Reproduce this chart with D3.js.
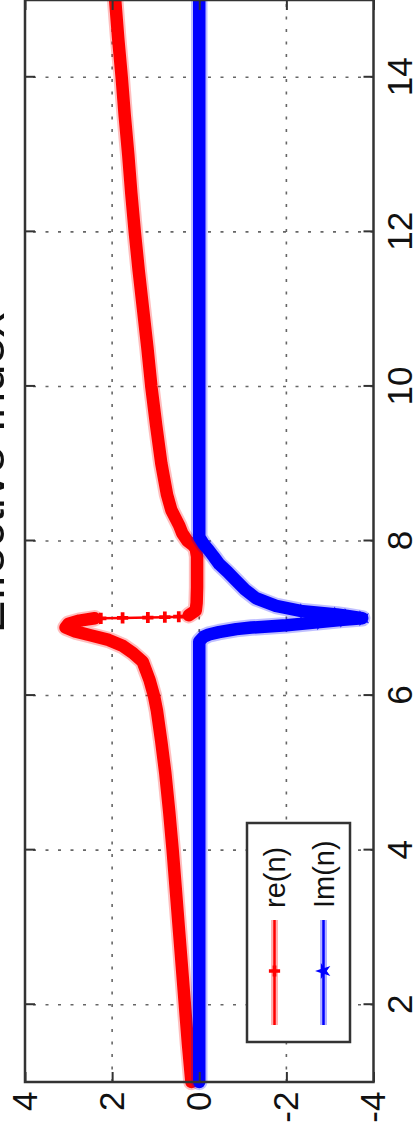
<!DOCTYPE html>
<html>
<head>
<meta charset="utf-8">
<script src="https://cdn.jsdelivr.net/npm/d3@7"></script>
<style>
  html, body { margin: 0; padding: 0; background: #fff; overflow: hidden; }
  svg { display: block; }
  text { font-family: "Liberation Sans", Arial, Helvetica, sans-serif; fill: #111; }
</style>
</head>
<body>
<svg id="chart" width="414" height="1133"></svg>
<script>
// ---- data ----
const titleText = 'Effective Index';
const seriesNames = ['re(n)', 'Im(n)'];
const xTicks = [2, 4, 6, 8, 10, 12, 14];
const yTicks = [-4, -2, 0, 2, 4];
const yTickLabels = ['-4', '-2', '0', '2', '4'];
const xDomain = [1, 15];
const yDomain = [-4, 4];

// re(n) below the resonance (densely sampled)
const reLowX = [1.0, 1.5, 2.0, 2.5, 3.0, 3.5, 4.0, 4.5, 5.0, 5.4, 5.8, 6.0, 6.2, 6.44, 6.55, 6.64, 6.72, 6.78, 6.83, 6.88, 6.93, 6.97, 7.0];
const reLowY = [0.18, 0.26, 0.33, 0.40, 0.47, 0.54, 0.61, 0.69, 0.78, 0.87, 0.97, 1.04, 1.14, 1.30, 1.52, 1.75, 2.08, 2.50, 2.85, 3.07, 3.00, 2.75, 2.40];
// re(n) across the resonance (sparse samples)
const reJumpX = [7.0, 7.005, 7.01, 7.015, 7.02];
const reJumpY = [2.26, 1.76, 1.18, 0.79, 0.47];
// re(n) above the resonance (densely sampled)
const reHighX = [7.04, 7.1, 7.2, 7.4, 7.6, 7.8, 7.9, 7.95, 8.0, 8.1, 8.2, 8.4, 8.6, 9.0, 9.5, 10.0, 10.5, 11.0, 11.5, 12.0, 12.5, 13.0, 13.5, 14.0, 14.5, 15.0];
const reHighY = [0.24, 0.08, 0.06, 0.05, 0.05, 0.05, 0.08, 0.15, 0.27, 0.39, 0.46, 0.64, 0.74, 0.87, 0.99, 1.10, 1.19, 1.29, 1.39, 1.48, 1.56, 1.63, 1.71, 1.78, 1.86, 1.93];

// Im(n)
const imX = [1, 2, 3, 4, 5, 6, 6.5, 6.7, 6.76, 6.79, 6.82, 6.86, 6.88, 6.91, 6.95, 6.98, 7.0, 7.03, 7.05, 7.09, 7.16, 7.26, 7.37, 7.49, 7.6, 7.7, 7.8, 7.88, 7.96, 8.05, 9, 10, 11, 12, 13, 14, 15];
const imY = [0, 0, 0, 0, 0, 0, 0, 0, -0.10, -0.22, -0.45, -0.85, -1.20, -2.00, -2.77, -3.30, -3.74, -3.40, -3.16, -2.38, -1.76, -1.30, -1.05, -0.84, -0.65, -0.46, -0.33, -0.22, -0.10, 0, 0, 0, 0, 0, 0, 0, 0];

// ---- layout (drawn in landscape, turned a quarter turn on the page) ----
const pageW = 414, pageH = 1133;
const svg = d3.select('#chart');
const g = svg.append('g').attr('transform', `translate(0,${pageH}) rotate(-90)`);

const plot = { left: 51, right: 1133, top: 25, bottom: 373.5 };
const x = d3.scaleLinear().domain(xDomain).range([plot.left, plot.right]);
const y = d3.scaleLinear().domain(yDomain).range([plot.bottom, plot.top]);

const RED = '#ff0000', BLUE = '#0000ff', AX = '#333';

// dotted grid
const grid = g.append('g').attr('class', 'grid')
  .attr('stroke', '#666').attr('stroke-width', 1.6).attr('stroke-dasharray', '3 9.5');
grid.selectAll('line.gx').data(xTicks).join('line').attr('class', 'gx')
  .attr('x1', d => x(d)).attr('x2', d => x(d)).attr('y1', plot.bottom).attr('y2', plot.top);
grid.selectAll('line.gy').data(yTicks.filter(v => v > yDomain[0] && v < yDomain[1])).join('line').attr('class', 'gy')
  .attr('x1', plot.left).attr('x2', plot.right).attr('y1', d => y(d)).attr('y2', d => y(d));

// series
const line = d3.line().x(d => x(d[0])).y(d => y(d[1]));
const zip = (xs, ys) => xs.map((v, i) => [v, ys[i]]);

const reLow = zip(reLowX, reLowY);
const reJump = zip(reJumpX, reJumpY);
const reHigh = zip(reHighX, reHighY);
const im = zip(imX, imY);

function band(data, color) {
  g.append('path').datum(data).attr('d', line).attr('fill', 'none')
    .attr('stroke', color).attr('stroke-opacity', 0.25).attr('stroke-width', 16.5)
    .attr('stroke-linejoin', 'round').attr('stroke-linecap', 'round');
  g.append('path').datum(data).attr('d', line).attr('fill', 'none')
    .attr('stroke', color).attr('stroke-width', 12.5)
    .attr('stroke-linejoin', 'round').attr('stroke-linecap', 'round');
}

const plus = d3.symbol().type(d3.symbolCross).size(70);
const star = d3.symbol().type(d3.symbolStar).size(80);

// re(n)
band(reLow, RED);
band(reHigh, RED);
const reThin = [reLow[reLow.length - 1], ...reJump, reHigh[0]];
g.append('path').datum(reThin).attr('d', line).attr('fill', 'none')
  .attr('stroke', RED).attr('stroke-width', 2.5);
g.append('g').selectAll('path').data(reJump).join('path')
  .attr('d', plus).attr('fill', RED)
  .attr('transform', d => `translate(${x(d[0])},${y(d[1])})`);

// Im(n)
band(im, BLUE);
g.append('g').selectAll('path').data(im.filter(d => d[1] < -2.3)).join('path')
  .attr('d', star).attr('fill', BLUE)
  .attr('transform', d => `translate(${x(d[0])},${y(d[1])})`);

// axes
function styleAxis(sel) {
  sel.select('.domain').remove();
  sel.selectAll('.tick line').attr('stroke', AX).attr('stroke-width', 2);
  sel.selectAll('.tick text').attr('font-size', 35).attr('fill', '#111');
}
g.append('g').attr('transform', `translate(0,${plot.bottom})`)
  .call(d3.axisBottom(x).tickValues(xTicks).tickSize(-10).tickPadding(13.5).tickFormat(d3.format('d')))
  .call(styleAxis);
g.append('g').attr('transform', `translate(0,${plot.top})`)
  .call(d3.axisTop(x).tickValues(xTicks).tickSize(-10).tickFormat(''))
  .call(styleAxis);
g.append('g').attr('transform', `translate(${plot.left},0)`)
  .call(d3.axisLeft(y).tickValues(yTicks).tickSize(-10).tickPadding(9.5).tickFormat((d, i) => yTickLabels[i]))
  .call(styleAxis);
g.append('g').attr('transform', `translate(${plot.right},0)`)
  .call(d3.axisRight(y).tickValues(yTicks).tickSize(-10).tickFormat(''))
  .call(styleAxis);

// frame
g.append('rect').attr('x', plot.left).attr('y', plot.top)
  .attr('width', plot.right - plot.left).attr('height', plot.bottom - plot.top)
  .attr('fill', 'none').attr('stroke', AX).attr('stroke-width', 2.5);

// title
g.append('text').attr('x', 660).attr('y', 3.5).attr('text-anchor', 'middle')
  .attr('font-size', 49).text(titleText);

// legend
const leg = g.append('g').attr('transform', 'translate(91,247)');
leg.append('rect').attr('width', 219).attr('height', 103)
  .attr('fill', '#fff').attr('stroke', AX).attr('stroke-width', 2.5);
const legendItems = [
  { name: seriesNames[0], color: RED, sym: plus, cy: 27.5 },
  { name: seriesNames[1], color: BLUE, sym: star, cy: 76.5 }
];
const li = leg.selectAll('g.item').data(legendItems).join('g').attr('class', 'item')
  .attr('transform', d => `translate(0,${d.cy})`);
li.append('line').attr('x1', 17).attr('x2', 122).attr('stroke', d => d.color)
  .attr('stroke-opacity', 0.3).attr('stroke-width', 7);
li.append('line').attr('x1', 17).attr('x2', 122).attr('stroke', d => d.color).attr('stroke-width', 2.5);
li.append('path').attr('d', d => d.sym()).attr('fill', d => d.color).attr('transform', 'translate(71,0)');
li.append('text').attr('x', 134).attr('dy', '0.35em').attr('font-size', 29).text(d => d.name);
</script>
</body>
</html>
